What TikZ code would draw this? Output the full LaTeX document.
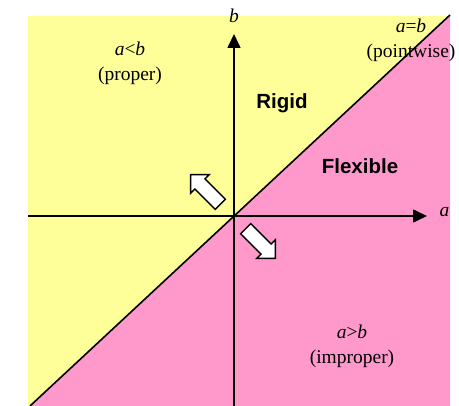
\documentclass[tikz,border=0pt]{standalone}
\usepackage{fontspec}
\setmainfont{Liberation Serif}
\newfontfamily\arialfont{Liberation Sans}
\usetikzlibrary{arrows.meta,shapes.arrows}
\definecolor{paleyellow}{HTML}{FFFF99}
\definecolor{palepink}{HTML}{FF99CC}

\tikzset{
  axis/.style={line width=1.6pt, -{Triangle[length=14pt,width=13pt]}},
  region/.style={font=\fontsize{19.5}{25}\selectfont, align=center, inner sep=1pt},
  zone/.style={font=\arialfont\bfseries\fontsize{20.5}{22}\selectfont},
  blockarrow/.style={single arrow, draw=black, fill=white, line width=1.4pt,
    minimum height=42pt, inner sep=6.5pt, single arrow head extend=6pt}
}

\begin{document}
\begin{tikzpicture}[x=1pt,y=-1pt]
\useasboundingbox (0,0) rectangle (459,406);
% regions
\fill[paleyellow] (28,16) rectangle (450,406);
\fill[palepink] (30,406) -- (450,15) -- (450,406) -- cycle;
\coordinate (origin) at (234,216);
\coordinate (lowleft) at (30,406);
\coordinate (upright) at (450,15);
\draw[line width=1.6pt] (lowleft) -- (upright);
% axes
\coordinate (aend) at (427,216);
\coordinate (bend) at (234,34);
\draw[axis] (28,216) -- (aend);
\draw[axis] (234,406) -- (bend);
\node[font=\itshape\fontsize{19.5}{22}\selectfont, anchor=west] (alabel) at (436,212) {a};
\node[font=\itshape\fontsize{19.5}{22}\selectfont] (blabel) at (234,16) {b};
% labels
\node[region] (proper) at (130,63) {\textit{a}<\textit{b}\\(proper)};
\node[region] (pointwise) at (411,40) {\textit{a}=\textit{b}\\(pointwise)};
\node[region] (improper) at (352,346) {\textit{a}>\textit{b}\\(improper)};
\node[zone] (rigid) at (282,103) {Rigid};
\node[zone] (flexible) at (360,166) {Flexible};
% direction arrows
\node[blockarrow, rotate=135] (upleft) at (208,192) {};
\node[blockarrow, rotate=-45] (downright) at (258,241) {};
\end{tikzpicture}
\end{document}
